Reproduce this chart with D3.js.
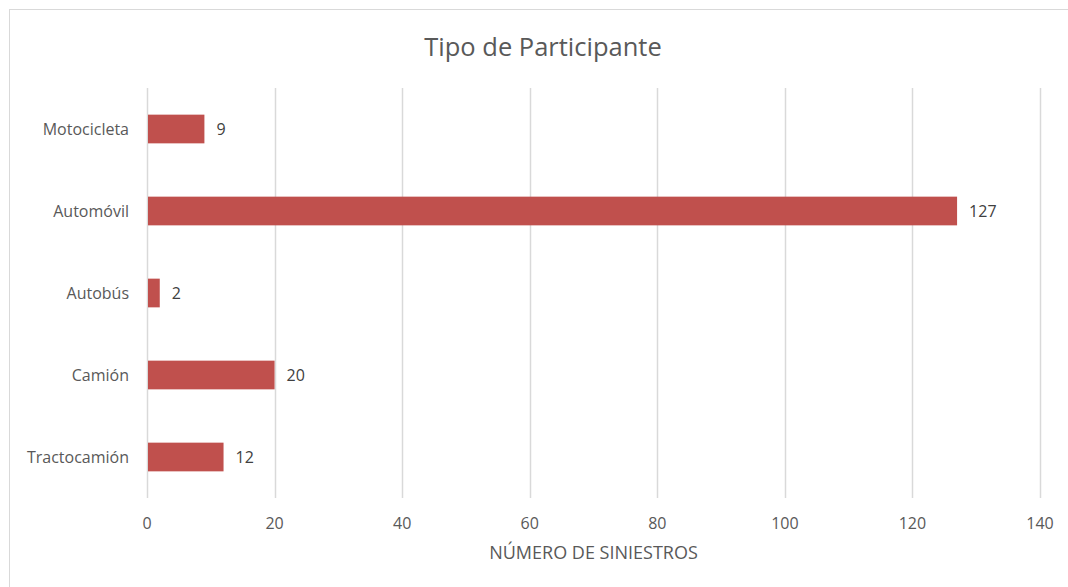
<!DOCTYPE html>
<html>
<head>
<meta charset="utf-8">
<script src="https://cdn.jsdelivr.net/npm/d3@7"></script>
<style>
  body { margin: 0; background: #fff; }
  text { font-family: "Open Sans", "Noto Sans", sans-serif; }
</style>
</head>
<body>
<div id="base"></div>
<script>
// data
var categories = ["Motocicleta", "Automóvil", "Autobús", "Camión", "Tractocamión"];
var values = [9, 127, 2, 20, 12];
var xTicks = [0, 20, 40, 60, 80, 100, 120, 140];

const width = 1068, height = 587;
const margin = {top: 88, right: 28, bottom: 89, left: 147};
const barColor = "#C0504D";
const gridColor = "#d9d9d9";
const textColor = "#595959";

const svg = d3.select("#base").append("svg")
    .attr("width", width)
    .attr("height", height);

// chart border
svg.append("rect")
    .attr("x", 9.5).attr("y", 9.5)
    .attr("width", width - 9).attr("height", height)
    .attr("fill", "none")
    .attr("stroke", gridColor);

const x = d3.scaleLinear()
    .domain([0, 140])
    .range([margin.left, width - margin.right]);

const y = d3.scaleBand()
    .domain(categories)
    .range([margin.top, height - margin.bottom])
    .paddingInner(0.65)
    .paddingOuter(0.325);

// gridlines
svg.append("g")
  .selectAll("line")
  .data(xTicks)
  .join("line")
    .attr("x1", d => Math.round(x(d)) + 0.5)
    .attr("x2", d => Math.round(x(d)) + 0.5)
    .attr("y1", margin.top)
    .attr("y2", height - margin.bottom)
    .attr("stroke", gridColor)
    .attr("stroke-width", 1.5);

// x tick labels
svg.append("g")
  .selectAll("text")
  .data(xTicks)
  .join("text")
    .attr("x", d => x(d))
    .attr("y", 529)
    .attr("text-anchor", "middle")
    .attr("font-size", 16)
    .attr("fill", textColor)
    .text(d => d);

// bars
svg.append("g")
  .selectAll("rect")
  .data(values)
  .join("rect")
    .attr("x", x(0) + 1)
    .attr("y", (d, i) => y(categories[i]))
    .attr("width", d => x(d) - x(0) - 1)
    .attr("height", y.bandwidth())
    .attr("fill", barColor);

// value labels
svg.append("g")
  .selectAll("text")
  .data(values)
  .join("text")
    .attr("x", d => x(d) + 12)
    .attr("y", (d, i) => y(categories[i]) + y.bandwidth() / 2)
    .attr("dy", "0.35em")
    .attr("font-size", 16)
    .attr("fill", "#404040")
    .text(d => d);

// category labels
svg.append("g")
  .selectAll("text")
  .data(categories)
  .join("text")
    .attr("x", 129)
    .attr("y", d => y(d) + y.bandwidth() / 2)
    .attr("dy", "0.35em")
    .attr("text-anchor", "end")
    .attr("font-size", 16)
    .attr("fill", textColor)
    .text(d => d);

// title
svg.append("text")
    .attr("x", 543)
    .attr("y", 56)
    .attr("text-anchor", "middle")
    .attr("font-size", 25.5)
    .attr("fill", textColor)
    .text("Tipo de Participante");

// axis title
svg.append("text")
    .attr("x", x(70))
    .attr("y", 559)
    .attr("text-anchor", "middle")
    .attr("font-size", 18)
    .attr("fill", textColor)
    .text("NÚMERO DE SINIESTROS");
</script>
</body>
</html>
